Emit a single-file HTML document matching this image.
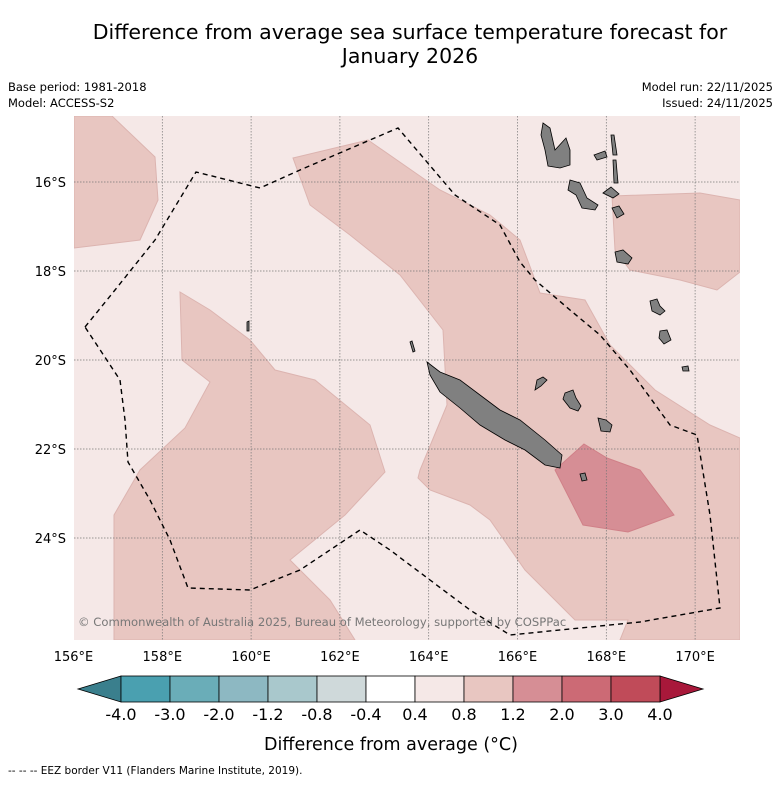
<!DOCTYPE html>
<html><head><meta charset="utf-8">
<style>
body{margin:0;background:#fff;font-family:"Liberation Sans","DejaVu Sans",sans-serif;}
svg text{font-family:"DejaVu Sans","Liberation Sans",sans-serif;}
</style></head>
<body>
<svg id="chart" width="781" height="781" viewBox="0 0 781 781" xmlns="http://www.w3.org/2000/svg">
<text x="410" y="39" text-anchor="middle" font-size="20.5">Difference from average sea surface temperature forecast for</text>
<text x="410" y="63" text-anchor="middle" font-size="20.5">January 2026</text>
<text x="8" y="91" font-size="11.5">Base period: 1981-2018</text>
<text x="8" y="107" font-size="11.5">Model: ACCESS-S2</text>
<text x="773" y="91" font-size="11.5" text-anchor="end">Model run: 22/11/2025</text>
<text x="773" y="107" font-size="11.5" text-anchor="end">Issued: 24/11/2025</text>
<defs><clipPath id="mapclip"><rect x="74" y="116" width="666" height="524"/></clipPath></defs>
<g id="map" clip-path="url(#mapclip)"></g>
<g id="axes"></g>
<g id="cbar"></g>
<text x="391" y="750" text-anchor="middle" font-size="17.5">Difference from average (°C)</text>
<text x="8" y="774" font-size="10.5">--  --  -- EEZ border V11 (Flanders Marine Institute, 2019).</text>
</svg>
<script>
const lonTicks=[156,158,160,162,164,166,168,170];
const latTicks=[16,18,20,22,24];
const cbarBounds=["-4.0","-3.0","-2.0","-1.2","-0.8","-0.4","0.4","0.8","1.2","2.0","3.0","4.0"];
const cbarColors=["#4aa0b0","#6aadb8","#8db8c2","#a9c8cc","#cfd9da","#ffffff","#f5e8e7","#e8c6c1","#d68e95","#cc6a75","#c04b59"];
const cbarLow="#3a7f8d", cbarHigh="#a8183a";
const NS="http://www.w3.org/2000/svg";
const xLon=l=>73.5+(l-156)*44.4;
const yLat=l=>182+(l-16)*44.5;
function mk(tag,attrs,parent){const e=document.createElementNS(NS,tag);for(const k in attrs)e.setAttribute(k,attrs[k]);parent.appendChild(e);return e;}
const map=document.getElementById('map');
const axes=document.getElementById('axes');
let bg=mk('rect',{x:74,y:116,width:666,height:524,fill:'#f5e8e7'},map);


const mids=[
 [[74,116],[112,116],[155,157],[158,200],[140,240],[74,248]],
 [[180,292],[210,310],[250,340],[275,370],[315,380],[370,425],[385,472],[345,515],[290,560],[330,600],[355,640],[114,640],[114,515],[140,470],[185,428],[210,382],[182,360]],
 [[293,158],[368,140],[440,190],[490,215],[520,240],[540,293],[585,300],[610,345],[655,390],[710,425],[740,438],[740,640],[620,640],[628,620],[575,620],[525,570],[490,520],[470,505],[430,490],[418,478],[420,470],[447,405],[443,330],[400,275],[350,235],[310,205]],
 [[612,196],[700,193],[740,200],[740,272],[717,290],[680,280],[630,270],[615,250]]
];
mids.forEach(p=>{const e=mk('polygon',{points:p.join(' '),fill:'#e8c6c1',stroke:'#dcb4b0','stroke-width':1},map);

});
const dark=[[584,444],[607,458],[640,470],[674,515],[628,532],[583,525],[555,470]];
let dk=mk('polygon',{points:dark.join(' '),fill:'#d68e95',stroke:'#d08088','stroke-width':1},map);


lonTicks.forEach(l=>{const g=mk('line',{x1:xLon(l),x2:xLon(l),y1:116,y2:640,stroke:'#777','stroke-width':0.7,'stroke-dasharray':'1.5,1.5'},map);

});
latTicks.forEach(l=>{const g=mk('line',{x1:74,x2:740,y1:yLat(l),y2:yLat(l),stroke:'#777','stroke-width':0.7,'stroke-dasharray':'1.5,1.5'},map);

});
const islands=[
 [[427,362],[440,372],[460,380],[480,395],[500,410],[520,420],[545,440],[562,455],[560,468],[545,465],[525,450],[505,440],[480,425],[460,408],[440,392],[430,375]],
 [[543,123],[550,128],[555,150],[566,138],[570,150],[570,165],[560,168],[548,166],[545,150],[541,135]],
 [[570,180],[580,183],[587,198],[598,205],[595,210],[582,208],[576,195],[568,190]],
 [[594,155],[605,151],[607,157],[597,160]],
 [[611,135],[614,135],[617,155],[613,155]],
 [[613,160],[616,160],[618,183],[614,183]],
 [[603,193],[611,187],[619,194],[613,198]],
 [[612,208],[619,206],[624,214],[617,218]],
 [[615,252],[623,250],[632,258],[628,264],[617,262]],
 [[537,380],[543,377],[547,380],[541,386],[535,390]],
 [[565,393],[573,390],[576,398],[581,406],[578,411],[570,408],[563,399]],
 [[598,418],[606,420],[612,425],[610,432],[601,431]],
 [[580,474],[585,473],[587,480],[582,481]],
 [[650,301],[657,299],[660,306],[665,311],[660,315],[652,311]],
 [[660,331],[667,330],[671,340],[664,344],[659,338]],
 [[682,367],[688,366],[689,371],[683,371]],
 [[410,342],[412,341],[415,351],[413,352]],
 [[247,322],[249,321],[249,331],[247,331]]
];
islands.forEach(p=>{const e=mk('polygon',{points:p.join(' '),fill:'#808080',stroke:'#000','stroke-width':0.8},map);

});
const eez=[[85,327],[115,290],[155,240],[196,172],[260,188],[300,170],[398,128],[455,195],[500,225],[520,262],[535,280],[570,310],[600,335],[630,370],[670,425],[697,435],[710,515],[720,608],[640,622],[510,635],[470,610],[430,580],[390,550],[360,530],[300,570],[250,590],[188,588],[170,540],[150,500],[128,462],[125,420],[120,380]];
let ez=mk('polygon',{points:eez.join(' '),fill:'none',stroke:'#000','stroke-width':1.4,'stroke-dasharray':'5,4'},map);


let cp=mk('text',{x:78,y:626,'font-size':11.6,fill:'#777'},map);
cp.textContent='© Commonwealth of Australia 2025, Bureau of Meteorology, supported by COSPPac';


lonTicks.forEach(l=>{const t=mk('text',{x:xLon(l),y:661,'font-size':13,'text-anchor':'middle'},axes);t.textContent=l+'°E';

});
latTicks.forEach(l=>{const t=mk('text',{x:66,y:yLat(l)+5,'font-size':13,'text-anchor':'end'},axes);t.textContent=l+'°S';

});
const cb=document.getElementById('cbar');
const cx0=121,cx1=660,cy=676,ch=26,bw=(cx1-cx0)/cbarColors.length;
let lt=mk('polygon',{points:`${cx0},${cy} 78,${cy+ch/2} ${cx0},${cy+ch}`,fill:cbarLow,stroke:'#000','stroke-width':0.8},cb);


let rt=mk('polygon',{points:`${cx1},${cy} 703,${cy+ch/2} ${cx1},${cy+ch}`,fill:cbarHigh,stroke:'#000','stroke-width':0.8},cb);


cbarColors.forEach((c,i)=>{const r=mk('rect',{x:cx0+i*bw,y:cy,width:bw,height:ch,fill:c,stroke:'#000','stroke-width':0.8},cb);

});
cbarBounds.forEach((b,i)=>{const t=mk('text',{x:cx0+i*bw,y:720,'font-size':16,'text-anchor':'middle'},cb);t.textContent=b;

});
</script>
</body></html>
